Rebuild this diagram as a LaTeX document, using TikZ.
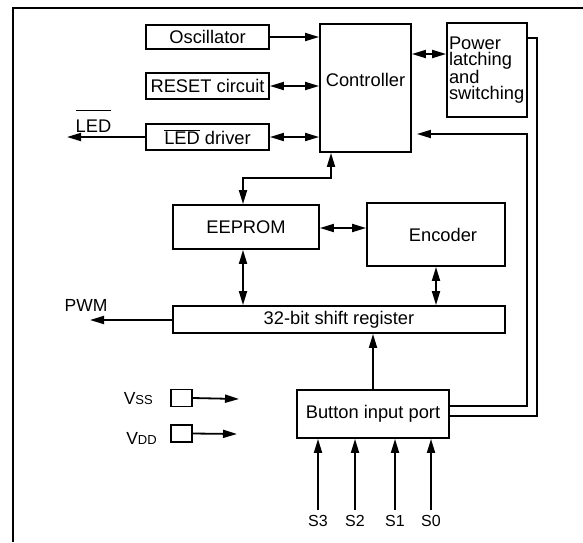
\documentclass[tikz,border=0pt]{standalone}
\usepackage{fontspec}
\setmainfont{Liberation Sans}
\usetikzlibrary{arrows.meta}
\usetikzlibrary{calc}

\newcommand{\subcap}[1]{{\fontsize{13}{13}\selectfont #1}}

\begin{document}
\begin{tikzpicture}[x=1pt, y=-1pt, line width=1.8pt,
        font=\fontsize{18.3}{16}\selectfont,
        >={Triangle[length=14pt,width=8pt]},
        blk/.style={draw, line width=1.8pt, inner sep=1pt},
        pin/.style={draw, line width=1.8pt, inner sep=0pt, minimum width=21pt, minimum height=17pt},
        lbl/.style={font=\fontsize{17.5}{17.5}\selectfont},
        sig/.style={font=\fontsize{16}{16}\selectfont}]
            \useasboundingbox (0,0) rectangle (583,542);
            \draw[line width=2.4pt] (13,542) -- (13,8) -- (583,8);

            \node[blk, minimum width=123pt, minimum height=24pt] (osc) at (207.5,37) {Oscillator};
            \node[blk, minimum width=123pt, minimum height=26pt] (reset) at (207.5,86) {RESET circuit};
            \node[blk, minimum width=123pt, minimum height=26pt] (leddrv) at (207.5,137) {$\overline{\mbox{LED}}$ driver};
            \node[blk, minimum width=91pt, minimum height=128pt, label={[yshift=8pt]center:Controller}] (ctrl) at (365.5,88) {};
            \node[blk, minimum width=80pt, minimum height=94pt, text width=76pt, align=left] (power) at (487,70) {Power\\latching\\and\\switching};
            \node[blk, minimum width=146pt, minimum height=44pt] (eeprom) at (246,227) {EEPROM};
            \node[blk, minimum width=138pt, minimum height=63pt, label={[xshift=7pt]center:Encoder}] (enc) at (436,234.5) {};
            \node[blk, minimum width=332pt, minimum height=27pt] (shift) at (339,319.5) {32-bit shift register};
            \node[blk, minimum width=152pt, minimum height=48pt] (button) at (373,414) {Button input port};
            \node[pin] (vss) at (181.5,398) {};
            \node[pin] (vdd) at (181.5,433.5) {};

            \node[anchor=base] (ledlbl) at (93.5,132) {$\overline{\rule{0pt}{20pt}\mbox{LED}}$};
            \node[lbl, anchor=base] (pwmlbl) at (86,311) {PWM};
            \node[lbl, anchor=base east] (vsslbl) at (157,404) {V\subcap{SS}};
            \node[lbl, anchor=base east] (vddlbl) at (161,444) {V\subcap{DD}};

            \coordinate (ledout) at (67,137);
            \coordinate (pwmout) at (90,320);
            \coordinate (vssout) at (239,399);
            \coordinate (vddout) at (237,434);

            \draw[->] (osc.east) -- (osc.east -| ctrl.west);
            \draw[<->] (reset.east) -- (reset.east -| ctrl.west);
            \draw[<->] (leddrv.east) -- (leddrv.east -| ctrl.west);
            \draw[->] (leddrv.west) -- (ledout);
            \draw[<->] (ctrl.east |- 0,54) -- (power.west |- 0,54);
            \draw (power.east |- 0,38) -- (537,38) -- (537,416) -- (button.east |- 0,416);
            \draw[->, shorten >=5pt] (button.east |- 0,406) -- (527,406) -- (527,134) -- (ctrl.east |- 0,134);
            \draw[<->] (ctrl.south -| 331,0) -- (331,178) -- (243,178) -- (eeprom.north -| 243,0);
            \draw[<->] (eeprom.east |- 0,228) -- (enc.west |- 0,228);
            \draw[<->] (eeprom.south -| 243,0) -- (shift.north -| 243,0);
            \draw[<->] (enc.south) -- (enc.south |- shift.north);
            \draw[->] (shift.west |- 0,320) -- (pwmout);
            \draw[->] (button.north) -- (button.north |- shift.south);
            \draw[->] (vss.east) -- (vssout);
            \draw[->] (vdd.east) -- (vddout);

            \foreach \x/\n in {318/3, 355/2, 395/1, 431/0} {
                \coordinate (in\n) at (\x,510);
                \node[sig, anchor=base] (s\n) at (\x,526) {S\n};
                \draw[->] (in\n) -- (in\n |- button.south);
            }
        \end{tikzpicture}
\end{document}
